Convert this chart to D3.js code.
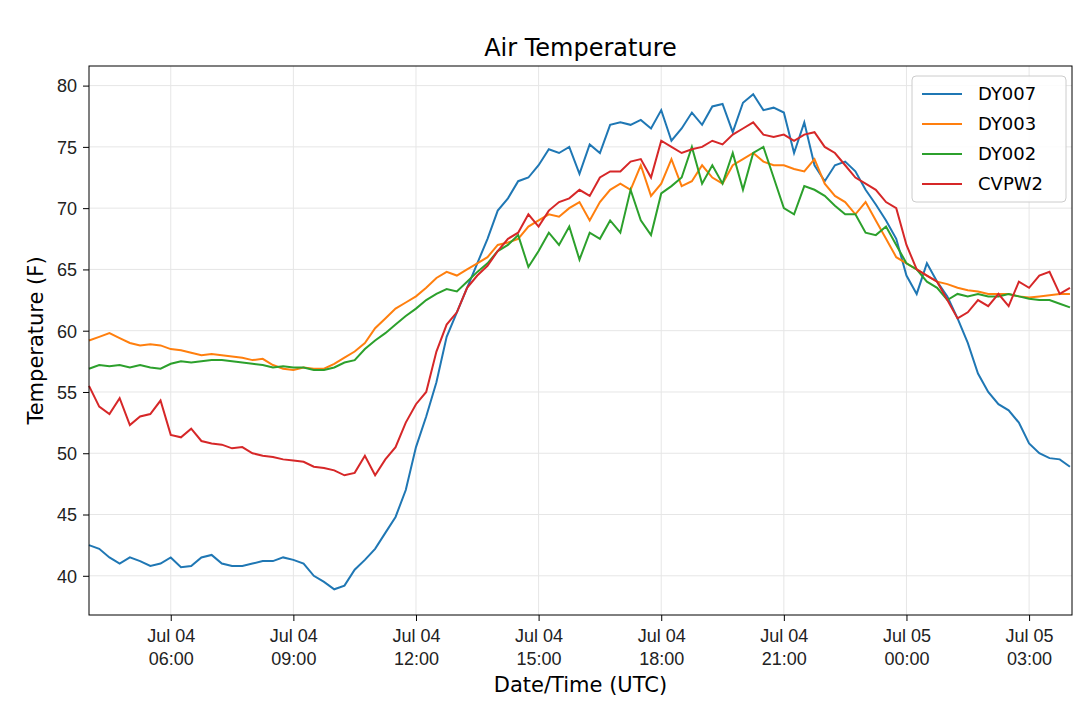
<!DOCTYPE html>
<html>
<head>
<meta charset="utf-8">
<script src="https://cdn.jsdelivr.net/npm/d3@7"></script>
<style>
  body { margin: 0; background: #fff; }
  svg { font-family: "DejaVu Sans", sans-serif; }
  .grid line { stroke: #e6e6e6; }
  .axis text { font-size: 18px; fill: #222; }
</style>
</head>
<body>
<svg id="chart" width="1080" height="703"></svg>
<script>
// Air temperature, readings every 15 minutes from Jul 04 04:00 UTC
const startTime = "2019-07-04T04:00:00Z";
const stepMinutes = 15;
const seriesNames = ["DY007", "DY003", "DY002", "CVPW2"];
const seriesColors = ["#1f77b4", "#ff7f0e", "#2ca02c", "#d62728"];
const yTicks = [40, 45, 50, 55, 60, 65, 70, 75, 80];

const dy007 = [
  42.5, 42.2, 41.5, 41.0, 41.5, 41.2, 40.8, 41.0, 41.5, 40.7, 40.8, 41.5,
  41.7, 41.0, 40.8, 40.8, 41.0, 41.2, 41.2, 41.5, 41.3, 41.0, 40.0, 39.5,
  38.9, 39.2, 40.5, 41.3, 42.2, 43.5, 44.8, 47.0, 50.5, 53.0, 55.8, 59.5,
  61.5, 63.5, 65.5, 67.5, 69.8, 70.8, 72.2, 72.5, 73.5, 74.8, 74.5, 75.0,
  72.8, 75.2, 74.5, 76.8, 77.0, 76.8, 77.2, 76.5, 78.0, 75.5, 76.5, 77.8,
  76.8, 78.3, 78.5, 76.2, 78.6, 79.3, 78.0, 78.2, 77.8, 74.5, 77.0, 73.5,
  72.2, 73.5, 73.8, 73.0, 71.5, 70.3, 69.0, 67.5, 64.5, 63.0, 65.5, 64.0,
  62.8, 61.0, 59.0, 56.5, 55.0, 54.0, 53.5, 52.5, 50.8, 50.0, 49.6, 49.5,
  48.9
];
const dy003 = [
  59.2, 59.5, 59.8, 59.4, 59.0, 58.8, 58.9, 58.8, 58.5, 58.4, 58.2, 58.0,
  58.1, 58.0, 57.9, 57.8, 57.6, 57.7, 57.2, 56.9, 56.8, 57.0, 56.9, 56.9,
  57.3, 57.8, 58.3, 59.0, 60.2, 61.0, 61.8, 62.3, 62.8, 63.5, 64.3, 64.8,
  64.5, 65.0, 65.5, 66.0, 67.0, 67.2, 67.5, 68.5, 69.0, 69.5, 69.3, 70.0,
  70.5, 69.0, 70.5, 71.5, 72.0, 71.5, 73.5, 71.0, 72.0, 74.0, 71.8, 72.2,
  73.5, 72.5, 72.0, 73.5, 74.0, 74.5, 73.8, 73.5, 73.5, 73.2, 73.0, 74.0,
  72.0, 71.0, 70.5, 69.5, 70.5, 69.0, 67.5, 66.0, 65.5, 65.0, 64.5, 64.0,
  63.8, 63.5, 63.3, 63.2, 63.0, 63.0, 63.0, 62.8, 62.7, 62.8, 62.9, 63.0,
  63.0
];
const dy002 = [
  56.9, 57.2, 57.1, 57.2, 57.0, 57.2, 57.0, 56.9, 57.3, 57.5, 57.4, 57.5,
  57.6, 57.6, 57.5, 57.4, 57.3, 57.2, 57.0, 57.1, 57.0, 57.0, 56.8, 56.8,
  57.0, 57.4, 57.6, 58.5, 59.2, 59.8, 60.5, 61.2, 61.8, 62.5, 63.0, 63.4,
  63.2, 64.0, 64.8, 65.5, 66.5, 67.0, 67.8, 65.2, 66.5, 68.0, 67.0, 68.5,
  65.8, 68.0, 67.5, 69.0, 68.0, 71.5, 69.0, 67.8, 71.2, 71.8, 72.5, 75.0,
  72.0, 73.5, 72.0, 74.5, 71.5, 74.5, 75.0, 72.5, 70.0, 69.5, 71.8, 71.5,
  71.0, 70.2, 69.5, 69.5, 68.0, 67.8, 68.5, 67.0, 65.5, 65.0, 64.0, 63.5,
  62.5, 63.0, 62.8, 63.0, 62.8, 62.8, 63.0, 62.8, 62.6, 62.5, 62.5, 62.2,
  61.9
];
const cvpw2 = [
  55.5, 53.8, 53.2, 54.5, 52.3, 53.0, 53.2, 54.3, 51.5, 51.3, 52.0, 51.0,
  50.8, 50.7, 50.4, 50.5, 50.0, 49.8, 49.7, 49.5, 49.4, 49.3, 48.9, 48.8,
  48.6, 48.2, 48.4, 49.8, 48.2, 49.5, 50.5, 52.5, 54.0, 55.0, 58.3, 60.5,
  61.5, 63.5, 64.5, 65.3, 66.5, 67.5, 68.0, 69.5, 68.5, 69.8, 70.5, 70.8,
  71.5, 71.0, 72.5, 73.0, 73.0, 73.8, 74.0, 72.5, 75.5, 75.0, 74.5, 74.8,
  75.0, 75.5, 75.2, 76.0, 76.5, 77.0, 76.0, 75.8, 76.0, 75.5, 76.0, 76.2,
  75.0, 74.5, 73.5, 72.5, 72.0, 71.5, 70.5, 70.0, 67.0, 65.0, 64.5, 64.0,
  62.5, 61.0, 61.5, 62.5, 62.0, 63.0, 62.0, 64.0, 63.5, 64.5, 64.8, 63.0,
  63.5
];
const seriesValues = [dy007, dy003, dy002, cvpw2];

const svg = d3.select("#chart");
const margin = { left: 89, right: 8, top: 66, bottom: 88 };
const W = 1080, H = 703;
const t0 = new Date(startTime);
const timeAt = i => new Date(t0.getTime() + i * stepMinutes * 60000);

const x = d3.scaleUtc()
  .domain([t0, new Date(t0.getTime() + 24.05 * 3600000)])
  .range([margin.left, W - margin.right]);
const y = d3.scaleLinear()
  .domain([36.8, 81.6])
  .range([H - margin.bottom, margin.top]);

const xTicks = x.ticks(d3.utcHour.every(3)).filter(d => d > t0);

// grid
const grid = svg.append("g").attr("class", "grid");
grid.selectAll(".gx").data(xTicks).join("line")
  .attr("x1", d => x(d)).attr("x2", d => x(d))
  .attr("y1", margin.top).attr("y2", H - margin.bottom);
grid.selectAll(".gy").data(yTicks).join("line")
  .attr("x1", margin.left).attr("x2", W - margin.right)
  .attr("y1", d => y(d)).attr("y2", d => y(d));

// lines
const line = d3.line().x((d, i) => x(timeAt(i))).y(d => y(d));
svg.append("g").selectAll("path").data(seriesValues).join("path")
  .attr("fill", "none")
  .attr("stroke", (d, i) => seriesColors[i])
  .attr("stroke-width", 2)
  .attr("d", line);

// frame
svg.append("rect")
  .attr("x", margin.left).attr("y", margin.top)
  .attr("width", W - margin.left - margin.right)
  .attr("height", H - margin.top - margin.bottom)
  .attr("fill", "none").attr("stroke", "#000").attr("stroke-width", 1);

// axes
const xAxis = svg.append("g").attr("class", "axis")
  .attr("transform", `translate(0,${H - margin.bottom})`)
  .call(d3.axisBottom(x).tickValues(xTicks).tickSize(6).tickFormat(""));
xAxis.select(".domain").remove();
xAxis.selectAll(".tick").each(function (d) {
  const t = d3.select(this).append("text").attr("fill", "#222").attr("text-anchor", "middle");
  t.append("tspan").attr("x", 0).attr("y", 27).text(d3.utcFormat("%b %d")(d));
  t.append("tspan").attr("x", 0).attr("y", 50).text(d3.utcFormat("%H:%M")(d));
});

const yAxis = svg.append("g").attr("class", "axis")
  .attr("transform", `translate(${margin.left},0)`)
  .call(d3.axisLeft(y).tickValues(yTicks).tickSize(6).tickPadding(6));
yAxis.select(".domain").remove();
yAxis.selectAll("text").attr("dy", "0.35em");

// titles
svg.append("text").attr("x", (margin.left + W - margin.right) / 2).attr("y", 56)
  .attr("text-anchor", "middle").attr("font-size", 24).text("Air Temperature");
svg.append("text").attr("x", (margin.left + W - margin.right) / 2).attr("y", 692)
  .attr("text-anchor", "middle").attr("font-size", 21).text("Date/Time (UTC)");
svg.append("text")
  .attr("transform", `translate(43,${(margin.top + H - margin.bottom) / 2}) rotate(-90)`)
  .attr("text-anchor", "middle").attr("font-size", 21).text("Temperature (F)");

// legend
const lg = svg.append("g").attr("transform", "translate(912,76)");
lg.append("rect").attr("width", 154).attr("height", 126).attr("rx", 4)
  .attr("fill", "#fff").attr("fill-opacity", 0.85).attr("stroke", "#ccc");
seriesNames.forEach((name, i) => {
  const ry = 18 + i * 30;
  lg.append("line").attr("x1", 10).attr("x2", 50).attr("y1", ry).attr("y2", ry)
    .attr("stroke", seriesColors[i]).attr("stroke-width", 2);
  lg.append("text").attr("x", 66).attr("y", ry).attr("dy", "0.35em")
    .attr("font-size", 18).text(name);
});
</script>
</body>
</html>
